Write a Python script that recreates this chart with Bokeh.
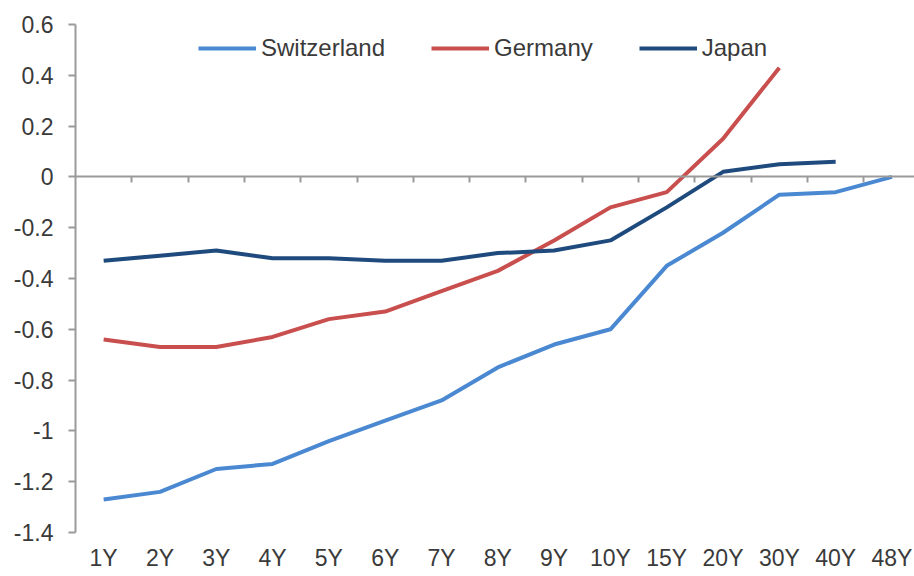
from bokeh.plotting import figure
from bokeh.models import (FixedTicker, LinearAxis, Legend, LegendItem, Range1d)
from bokeh.embed import file_html
from bokeh.resources import INLINE

# Government bond yield curves by maturity (%)
maturities = ["1Y", "2Y", "3Y", "4Y", "5Y", "6Y", "7Y", "8Y", "9Y", "10Y",
              "15Y", "20Y", "30Y", "40Y", "48Y"]
switzerland = [-1.27, -1.24, -1.15, -1.13, -1.04, -0.96, -0.88, -0.75, -0.66,
               -0.60, -0.35, -0.22, -0.07, -0.06, 0.0]
germany = [-0.64, -0.67, -0.67, -0.63, -0.56, -0.53, -0.45, -0.37, -0.25,
           -0.12, -0.06, 0.15, 0.43]
japan = [-0.33, -0.31, -0.29, -0.32, -0.32, -0.33, -0.33, -0.30, -0.29,
         -0.25, -0.12, 0.02, 0.05, 0.06]
y_ticks = [0.6, 0.4, 0.2, 0.0, -0.2, -0.4, -0.6, -0.8, -1.0, -1.2, -1.4]
y_tick_labels = ["0.6", "0.4", "0.2", "0", "-0.2", "-0.4", "-0.6", "-0.8",
                 "-1", "-1.2", "-1.4"]

FONT = "Liberation Sans"
TEXT = "#3a3a3a"
AXIS = "#9a9a9a"

p = figure(width=914, height=576, output_backend="svg", toolbar_location=None,
           x_range=Range1d(-0.5, 14.4), y_range=Range1d(-1.4, 0.6),
           min_border_left=75, min_border_right=0, min_border_top=24,
           min_border_bottom=44)
p.outline_line_color = None
p.grid.grid_line_color = None
p.background_fill_color = "white"

# category labels along the bottom, no line or ticks
xa = p.xaxis[0]
xa.ticker = FixedTicker(ticks=list(range(len(maturities))))
xa.major_label_overrides = {i: m for i, m in enumerate(maturities)}
xa.axis_line_color = None
xa.major_tick_line_color = None
xa.minor_tick_line_color = None
xa.major_tick_out = 0
xa.major_label_standoff = 12
xa.major_label_text_font = FONT
xa.major_label_text_font_size = "23px"
xa.major_label_text_color = TEXT

# zero line with tick marks between categories (unlabelled)
between = [i + 0.5 for i in range(len(maturities) - 1)]
zero_axis = LinearAxis(fixed_location=0,
                       ticker=FixedTicker(ticks=between),
                       major_label_overrides={t: "" for t in between},
                       axis_line_color=AXIS, axis_line_width=2,
                       major_tick_line_color=AXIS, major_tick_line_width=2,
                       major_tick_in=0, major_tick_out=6,
                       minor_tick_line_color=None,
                       major_label_text_font=FONT,
                       major_label_text_font_size="10px")
p.add_layout(zero_axis, "below")

ya = p.yaxis[0]
ya.ticker = FixedTicker(ticks=y_ticks)
ya.major_label_overrides = dict(zip(y_ticks, y_tick_labels))
ya.axis_line_color = AXIS
ya.axis_line_width = 2
ya.major_tick_line_color = AXIS
ya.major_tick_line_width = 2
ya.major_tick_in = 0
ya.major_tick_out = 7
ya.minor_tick_line_color = None
ya.major_label_standoff = 15
ya.major_label_text_font = FONT
ya.major_label_text_font_size = "23px"
ya.major_label_text_color = TEXT

r_ch = p.line(list(range(len(switzerland))), switzerland, line_color="#4a89d2", line_width=4)
r_de = p.line(list(range(len(germany))), germany, line_color="#c94f4e", line_width=4)
r_jp = p.line(list(range(len(japan))), japan, line_color="#1f4a7d", line_width=4)

legend = Legend(items=[LegendItem(label="Switzerland", renderers=[r_ch]),
                       LegendItem(label="Germany", renderers=[r_de]),
                       LegendItem(label="Japan", renderers=[r_jp])],
                orientation="horizontal", location=(123, 470),
                glyph_width=58, glyph_height=20, label_standoff=5, spacing=46,
                padding=0, margin=0, border_line_color=None,
                background_fill_alpha=0,
                label_text_font=FONT, label_text_font_size="24px",
                label_text_color=TEXT)
p.add_layout(legend, "center")

open("out.html", "w").write(file_html(p, INLINE))
